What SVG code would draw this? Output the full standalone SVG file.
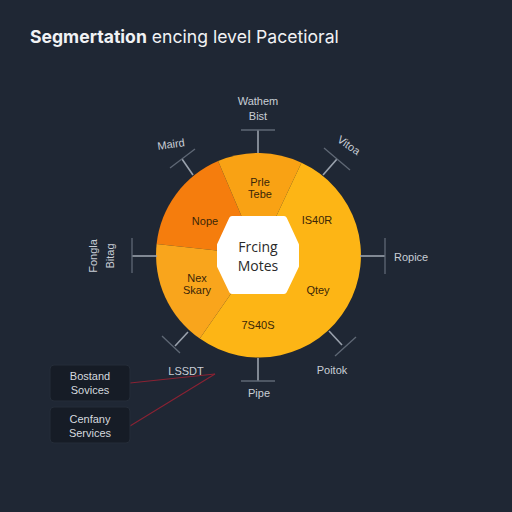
<svg xmlns="http://www.w3.org/2000/svg" width="512" height="512" viewBox="0 0 512 512">
  <style>
    .lbl{font-family:"Liberation Sans",Arial,sans-serif;font-size:11px;fill:#c9ced6;text-anchor:middle}
    .seg{font-family:"Liberation Sans",Arial,sans-serif;font-size:11px;fill:#3a2608;text-anchor:middle}
    .tick{stroke:#9aa2ad;stroke-width:1.6;fill:none}
    .cap{stroke:#5f6875;stroke-width:1.3;fill:none}
    .box{fill:#161c26;stroke:#252d39;stroke-width:1}
    .boxt{font-family:"Liberation Sans",Arial,sans-serif;font-size:11px;fill:#d5d9df;text-anchor:middle}
    .conn{stroke:#8a2233;stroke-width:1.1;fill:none}
  </style>
  <rect width="512" height="512" fill="#1f2734"/>
  <text x="30" y="43" font-family="Inter,'Open Sans',sans-serif" font-size="17.6" fill="#f1f2f4"><tspan font-weight="700">Segmertation</tspan> encing level Pacetioral</text>

  <g id="pie">
    <path d="M258,255 L156.6,244 A102,102 0 0 1 218.1,161.1 Z" fill="#f57d0d"/>
    <path d="M258,255 L218.1,161.1 A102,102 0 0 1 301.5,162.8 Z" fill="#f9a214"/>
    <path d="M258,255 L301.5,162.8 A102,102 0 1 1 199.8,338.6 Z" fill="#fdb515"/>
    <path d="M258,255 L199.8,338.6 A102,102 0 0 1 156.6,244 Z" fill="#f9a51c"/>
  </g>
  <g id="center">
    <polygon points="232,219 284,219 296,245 296,266 284,291 232,291 220,266 220,245" fill="#ffffff" stroke="#ffffff" stroke-width="6" stroke-linejoin="round"/>
    <text x="258" y="252" font-family="'Open Sans',sans-serif" font-size="14" fill="#2a2a2a" text-anchor="middle">Frcing</text>
    <text x="258" y="271" font-family="'Open Sans',sans-serif" font-size="14" fill="#2a2a2a" text-anchor="middle">Motes</text>
  </g>
  <g id="segment-labels">
    <text class="seg" x="260" y="186">Prle</text>
    <text class="seg" x="260" y="198">Tebe</text>
    <text class="seg" x="205" y="225">Nope</text>
    <text class="seg" x="317" y="224">IS40R</text>
    <text class="seg" x="197" y="282">Nex</text>
    <text class="seg" x="197" y="294">Skary</text>
    <text class="seg" x="318" y="294">Qtey</text>
    <text class="seg" x="258" y="329">7S40S</text>
  </g>

  <g id="connectors">
    <line class="tick" x1="258" y1="153" x2="258" y2="130"/>
    <line class="cap" x1="241" y1="130" x2="275" y2="130"/>
    <line class="tick" x1="193" y1="175" x2="182" y2="159"/>
    <line class="cap" x1="170" y1="168" x2="195" y2="149"/>
    <line class="tick" x1="323" y1="175" x2="337" y2="159"/>
    <line class="cap" x1="324" y1="148" x2="350" y2="170"/>
    <line class="tick" x1="157" y1="256" x2="132" y2="256"/>
    <line class="cap" x1="132" y1="238" x2="132" y2="273"/>
    <line class="tick" x1="360" y1="256" x2="385" y2="256"/>
    <line class="cap" x1="385" y1="238" x2="385" y2="274"/>
    <line class="tick" x1="258" y1="358" x2="258" y2="381"/>
    <line class="cap" x1="241" y1="381" x2="275" y2="381"/>
    <line class="tick" x1="329" y1="331" x2="342" y2="345"/>
    <line class="cap" x1="335" y1="356" x2="356" y2="337"/>
    <line class="tick" x1="188" y1="332" x2="175" y2="346"/>
    <line class="cap" x1="162" y1="336" x2="180" y2="353"/>
    <line class="conn" x1="130" y1="383" x2="215" y2="374"/>
    <line class="conn" x1="130" y1="426" x2="215" y2="374"/>
  </g>

  <g id="outer-labels">
    <text class="lbl" x="258" y="105">Wathem</text>
    <text class="lbl" x="258" y="120">Bist</text>
    <text class="lbl" x="171" y="148" transform="rotate(-8 171 144)">Maird</text>
    <text class="lbl" x="349" y="149" transform="rotate(35 349 145)">Vitoa</text>
    <text class="lbl" x="93" y="260" transform="rotate(-90 93 256)">Fongla</text>
    <text class="lbl" x="110" y="260" transform="rotate(-90 110 256)">Bitag</text>
    <text class="lbl" x="394" y="261" style="text-anchor:start">Ropice</text>
    <text class="lbl" x="332" y="374">Poitok</text>
    <text class="lbl" x="259" y="397">Pipe</text>
    <text class="lbl" x="186" y="375">LSSDT</text>
  </g>

  <g id="box-backend">
    <rect class="box" x="50" y="365" width="80" height="36" rx="4"/>
    <text class="boxt" x="90" y="380">Bostand</text>
    <text class="boxt" x="90" y="394">Sovices</text>
  </g>
  <g id="box-company">
    <rect class="box" x="50" y="407" width="80" height="36" rx="4"/>
    <text class="boxt" x="90" y="423">Cenfany</text>
    <text class="boxt" x="90" y="437">Services</text>
  </g>
</svg>
